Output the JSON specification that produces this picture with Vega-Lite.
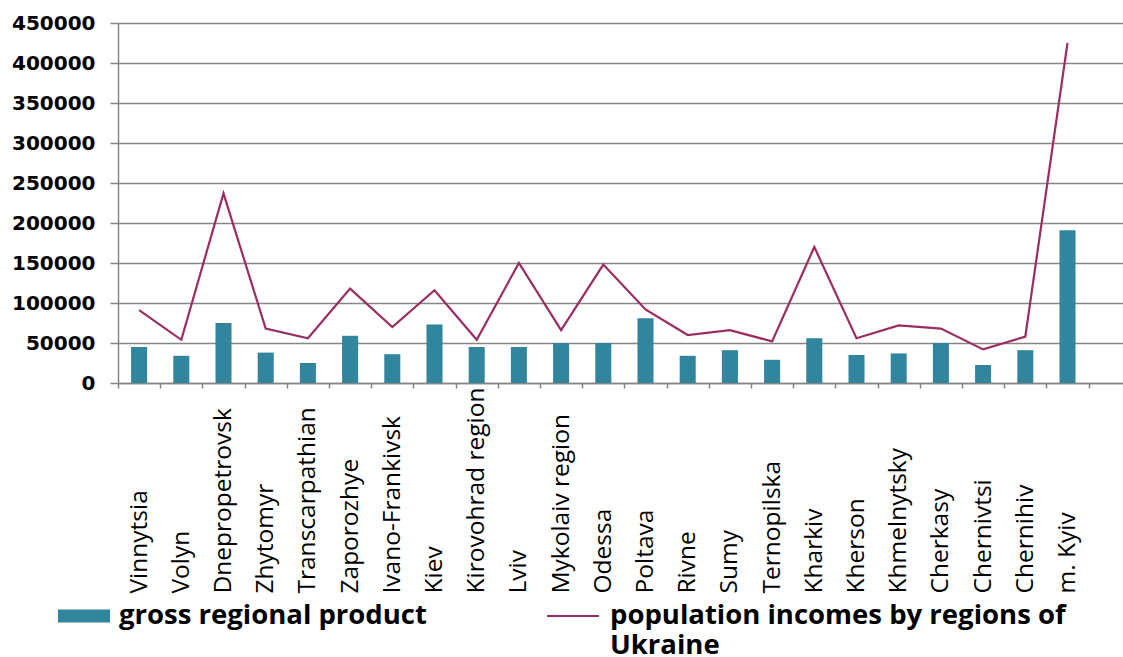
{
  "$schema": "https://vega.github.io/schema/vega-lite/v6.json",
  "width": 1005,
  "height": 360,
  "autosize": {"type": "none"},
  "padding": {"left": 118, "top": 23, "right": 0, "bottom": 274},
  "background": "white",
  "config": {
    "view": {"stroke": null},
    "legend": {"padding": 0}
  },
  "data": {"values": [
    {"region": "Vinnytsia", "gdp": 45000, "income": 91000},
    {"region": "Volyn", "gdp": 34000, "income": 54000},
    {"region": "Dnepropetrovsk", "gdp": 75000, "income": 237000},
    {"region": "Zhytomyr", "gdp": 38000, "income": 68000},
    {"region": "Transcarpathian", "gdp": 25000, "income": 56000},
    {"region": "Zaporozhye", "gdp": 59000, "income": 118000},
    {"region": "Ivano-Frankivsk", "gdp": 36000, "income": 70000},
    {"region": "Kiev", "gdp": 73000, "income": 116000},
    {"region": "Kirovohrad region", "gdp": 45000, "income": 54000},
    {"region": "Lviv", "gdp": 45000, "income": 150000},
    {"region": "Mykolaiv region", "gdp": 50000, "income": 66000},
    {"region": "Odessa", "gdp": 50000, "income": 148000},
    {"region": "Poltava", "gdp": 81000, "income": 92000},
    {"region": "Rivne", "gdp": 34000, "income": 60000},
    {"region": "Sumy", "gdp": 41000, "income": 66000},
    {"region": "Ternopilska", "gdp": 29000, "income": 52000},
    {"region": "Kharkiv", "gdp": 56000, "income": 170000},
    {"region": "Kherson", "gdp": 35000, "income": 56000},
    {"region": "Khmelnytsky", "gdp": 37000, "income": 72000},
    {"region": "Cherkasy", "gdp": 50000, "income": 68000},
    {"region": "Chernivtsi", "gdp": 22500, "income": 42000},
    {"region": "Chernihiv", "gdp": 41000, "income": 58000},
    {"region": "m. Kyiv", "gdp": 191000, "income": 425000}
  ]},
  "encoding": {
    "x": {
      "field": "region", "type": "nominal", "sort": null,
      "scale": {"paddingInner": 0, "paddingOuter": 0.4076, "align": 0},
      "axis": {
        "title": null, "tickBand": "extent", "labelAngle": -90,
        "labelAlign": "left", "labelBaseline": "middle", "labelPadding": 205,
        "tickSize": 5, "tickColor": "#868686", "tickWidth": 1.5,
        "domainColor": "#868686", "domainWidth": 1.5,
        "labelFont": "Open Sans", "labelFontSize": 24.5, "labelColor": "#000000",
        "labelOverlap": false, "labelLimit": 400, "labelBound": false, "grid": false
      }
    }
  },
  "layer": [
    {
      "mark": {"type": "bar", "width": {"band": 0.38}},
      "encoding": {
        "y": {
          "field": "gdp", "type": "quantitative",
          "scale": {"domain": [0, 450000], "nice": false},
          "axis": {
            "title": null, "values": [0, 50000, 100000, 150000, 200000, 250000, 300000, 350000, 400000, 450000],
            "format": "d", "grid": true, "gridColor": "#868686", "gridWidth": 1.5,
            "domainColor": "#868686", "domainWidth": 1.5, "labelOverlap": false,
            "tickColor": "#868686", "tickWidth": 1.5, "tickSize": 8, "labelPadding": 15,
            "labelFont": "DejaVu Sans", "labelFontWeight": "bold", "labelFontSize": 20, "labelColor": "#000000"
          }
        },
        "fill": {
          "datum": "gross regional product", "type": "nominal",
          "scale": {"domain": ["gross regional product"], "range": ["#31859C"]},
          "legend": {
            "title": null, "orient": "none", "legendX": -60, "legendY": 567,
            "symbolType": "M-1,-0.25H1V0.25H-1Z", "symbolSize": 2704, "symbolStrokeWidth": 0,
            "labelFont": "Open Sans", "labelFontWeight": "bold", "labelFontSize": 27.5,
            "labelColor": "#000000", "labelOffset": 9, "labelLimit": 1000
          }
        }
      }
    },
    {
      "mark": {"type": "line", "strokeWidth": 2.2},
      "encoding": {
        "y": {
          "field": "income", "type": "quantitative",
          "axis": {
            "title": null, "values": [0, 50000, 100000, 150000, 200000, 250000, 300000, 350000, 400000, 450000],
            "format": "d", "grid": true, "gridColor": "#868686", "gridWidth": 1.5,
            "domainColor": "#868686", "domainWidth": 1.5, "labelOverlap": false,
            "tickColor": "#868686", "tickWidth": 1.5, "tickSize": 8, "labelPadding": 15,
            "labelFont": "DejaVu Sans", "labelFontWeight": "bold", "labelFontSize": 20, "labelColor": "#000000"
          }
        },
        "stroke": {
          "datum": "population incomes by regions of Ukraine", "type": "nominal",
          "scale": {"domain": ["population incomes by regions of Ukraine"], "range": ["#9B2D62"]},
          "legend": {
            "title": null, "orient": "none", "legendX": 428, "legendY": 566,
            "symbolType": "M-1,0L1,0", "symbolSize": 2704, "symbolStrokeWidth": 2,
            "labelFont": "Open Sans", "labelFontWeight": "bold", "labelFontSize": 27.5,
            "labelColor": "#000000", "labelOffset": 10, "labelLimit": 1000,
            "labelExpr": "datum.label == 'population incomes by regions of Ukraine' ? ['population incomes by regions of', 'Ukraine'] : datum.label"
          }
        }
      }
    }
  ]
}
